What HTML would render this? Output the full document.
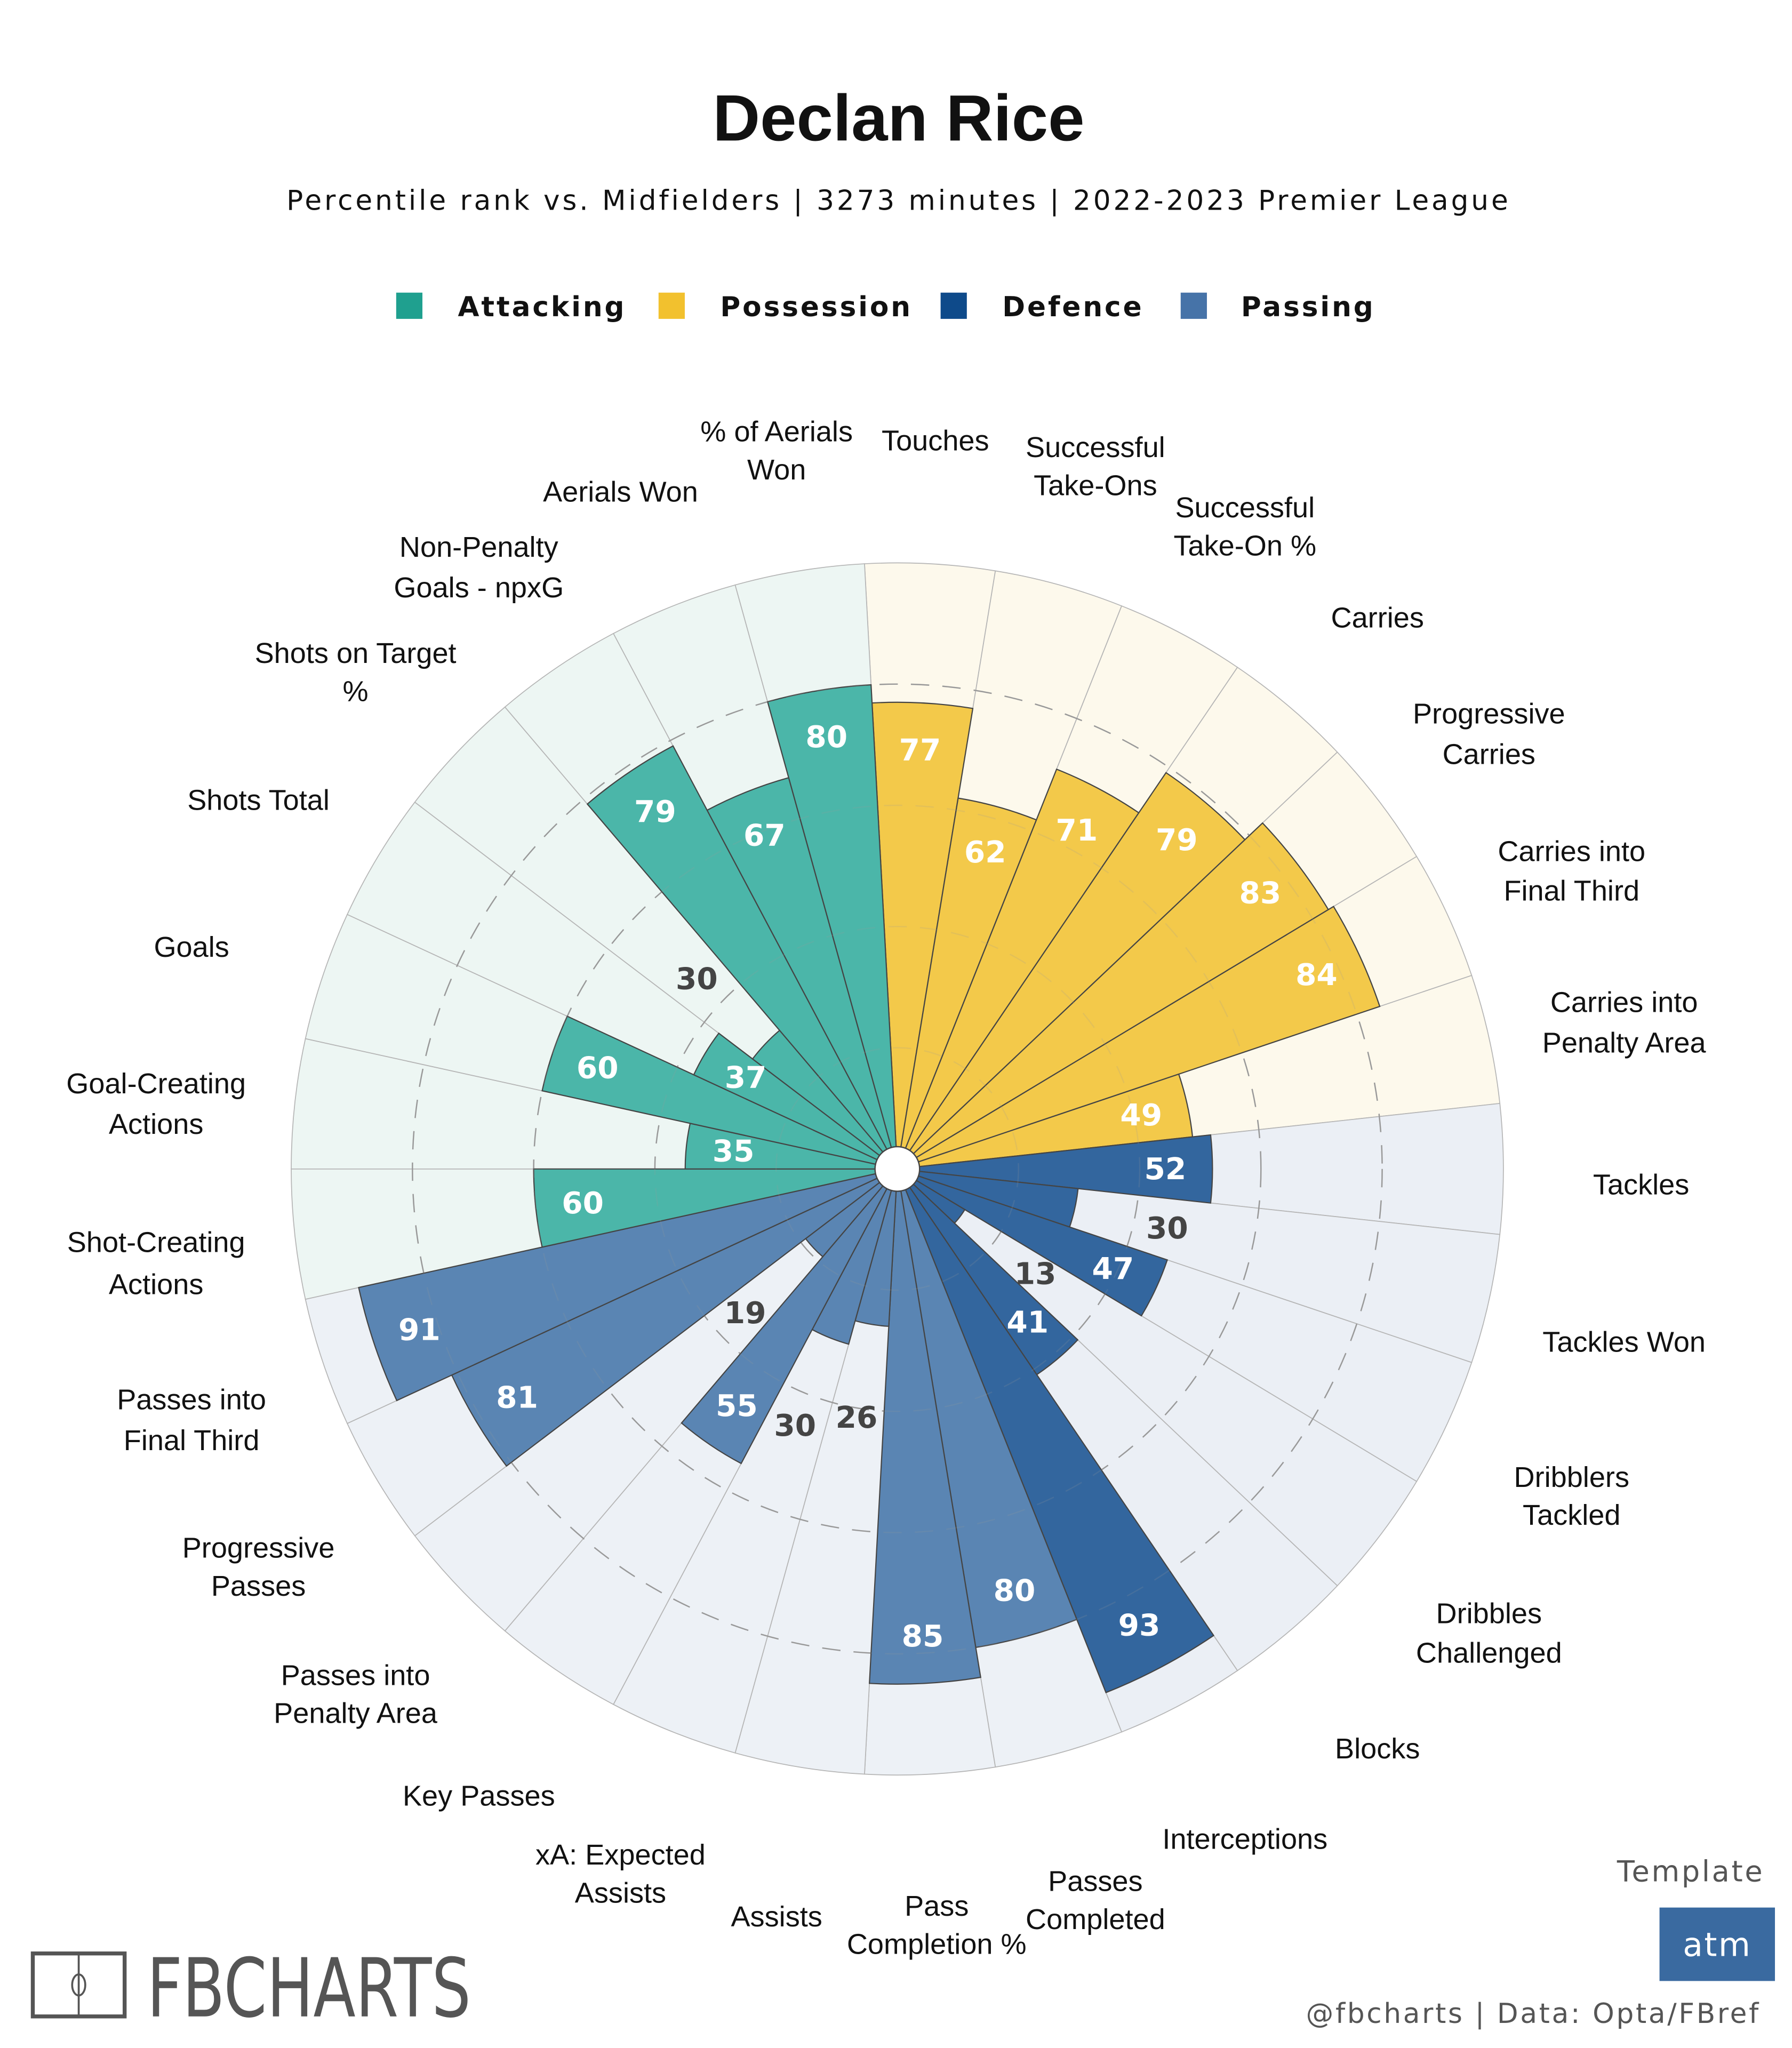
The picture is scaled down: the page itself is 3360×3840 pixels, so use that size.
<!DOCTYPE html>
<html><head><meta charset="utf-8">
<style>
html,body{margin:0;padding:0;background:#fff;}
svg{display:block;}
.lab{font-family:"Liberation Sans",Arial,sans-serif;font-size:22px;fill:#111;text-anchor:middle;dominant-baseline:central;}
</style></head>
<body>
<svg id="chart" width="3360" height="3840" viewBox="0 0 1366 1561" xmlns="http://www.w3.org/2000/svg">
<rect x="0" y="0" width="1366" height="1561" fill="#fff"/>
<text x="685" y="107" text-anchor="middle" font-family="Liberation Sans, Arial, sans-serif" font-weight="bold" font-size="50" fill="#111">Declan Rice</text>
<text x="685" y="160" text-anchor="middle" font-family="DejaVu Sans, sans-serif" font-size="21" letter-spacing="2" fill="#111">Percentile rank vs. Midfielders | 3273 minutes | 2022-2023 Premier League</text>
<g font-family="DejaVu Sans, sans-serif" font-weight="bold" font-size="21" letter-spacing="1.6" fill="#111">
 <g><rect x="302" y="223" width="20" height="20" fill="#1fa08f"/><text x="349" y="241">Attacking</text></g>
 <g><rect x="502" y="223" width="20" height="20" fill="#f2c12e"/><text x="549" y="241">Possession</text></g>
 <g><rect x="717" y="223" width="20" height="20" fill="#0e4a8a"/><text x="764" y="241">Defence</text></g>
 <g><rect x="900" y="223" width="20" height="20" fill="#4673a8"/><text x="946" y="241">Passing</text></g>
</g>
<g id="bgLayer"></g>
<g id="ringLayer"></g>
<g id="barLayer"></g>
<g id="ringTop"></g>
<g id="valLayer"></g>
<circle cx="684" cy="891" r="17" fill="#fff" stroke="#444" stroke-width="1"/>
<g transform="translate(-2,-2)">
 <text class="lab" x="715" y="338">Touches</text>
 <text class="lab" x="837" y="343">Successful<tspan x="837" dy="29">Take-Ons</tspan></text>
 <text class="lab" x="951" y="389">Successful<tspan x="951" dy="29">Take-On %</tspan></text>
 <text class="lab" x="1052" y="473">Carries</text>
 <text class="lab" x="1137" y="546">Progressive<tspan x="1137" dy="31">Carries</tspan></text>
 <text class="lab" x="1200" y="651">Carries into<tspan x="1200" dy="30">Final Third</tspan></text>
 <text class="lab" x="1240" y="766">Carries into<tspan x="1240" dy="31">Penalty Area</tspan></text>
 <text class="lab" x="1253" y="905">Tackles</text>
 <text class="lab" x="1240" y="1025">Tackles Won</text>
 <text class="lab" x="1200" y="1128">Dribblers<tspan x="1200" dy="29">Tackled</tspan></text>
 <text class="lab" x="1137" y="1232">Dribbles<tspan x="1137" dy="30">Challenged</tspan></text>
 <text class="lab" x="1052" y="1335">Blocks</text>
 <text class="lab" x="951" y="1404">Interceptions</text>
 <text class="lab" x="837" y="1436">Passes<tspan x="837" dy="29">Completed</tspan></text>
 <text class="lab" x="716" y="1455">Pass<tspan x="716" dy="29">Completion %</tspan></text>
 <text class="lab" x="594" y="1463">Assists</text>
 <text class="lab" x="475" y="1416">xA: Expected<tspan x="475" dy="29">Assists</tspan></text>
 <text class="lab" x="367" y="1371">Key Passes</text>
 <text class="lab" x="273" y="1279">Passes into<tspan x="273" dy="29">Penalty Area</tspan></text>
 <text class="lab" x="199" y="1182">Progressive<tspan x="199" dy="29">Passes</tspan></text>
 <text class="lab" x="148" y="1069">Passes into<tspan x="148" dy="31">Final Third</tspan></text>
 <text class="lab" x="121" y="949">Shot-Creating<tspan x="121" dy="32">Actions</tspan></text>
 <text class="lab" x="121" y="828">Goal-Creating<tspan x="121" dy="31">Actions</tspan></text>
 <text class="lab" x="148" y="724">Goals</text>
 <text class="lab" x="199" y="612">Shots Total</text>
 <text class="lab" x="273" y="500">Shots on Target<tspan x="273" dy="29">%</tspan></text>
 <text class="lab" x="367" y="419">Non-Penalty<tspan x="367" dy="31">Goals - npxG</tspan></text>
 <text class="lab" x="475" y="377">Aerials Won</text>
 <text class="lab" x="594" y="331">% of Aerials<tspan x="594" dy="29">Won</tspan></text>
</g>
<g transform="translate(-1,-5)">
 <rect x="26" y="1494" width="70" height="48" fill="none" stroke="#555" stroke-width="3"/>
 <line x1="61" y1="1494" x2="61" y2="1542" stroke="#555" stroke-width="1.5"/>
 <ellipse cx="61" cy="1518" rx="5" ry="8" fill="none" stroke="#555" stroke-width="1.5"/>
 <text x="113" y="1542" font-family="DejaVu Sans, sans-serif" font-size="62" fill="#555" textLength="247" lengthAdjust="spacingAndGlyphs">FBCHARTS</text>
</g>
<text x="1345" y="1434" text-anchor="end" font-family="DejaVu Sans, sans-serif" font-size="22" letter-spacing="1.5" fill="#555">Template</text>
<rect x="1265" y="1454" width="88" height="56" fill="#3a6aa0"/>
<text x="1309" y="1491" text-anchor="middle" font-family="DejaVu Sans, sans-serif" font-size="25" letter-spacing="1" fill="#fff">atm</text>
<text x="1342" y="1542" text-anchor="end" font-family="DejaVu Sans, sans-serif" font-size="21" letter-spacing="1.5" fill="#555">@fbcharts | Data: Opta/FBref</text>
</svg>
<script>
const categories = ["Touches","Successful Take-Ons","Successful Take-On %","Carries","Progressive Carries","Carries into Final Third","Carries into Penalty Area","Tackles","Tackles Won","Dribblers Tackled","Dribbles Challenged","Blocks","Interceptions","Passes Completed","Pass Completion %","Assists","xA: Expected Assists","Key Passes","Passes into Penalty Area","Progressive Passes","Passes into Final Third","Shot-Creating Actions","Goal-Creating Actions","Goals","Shots Total","Shots on Target %","Non-Penalty Goals - npxG","Aerials Won","% of Aerials Won"];
const groups = ["pos","pos","pos","pos","pos","pos","pos","def","def","def","def","def","def","pas","pas","pas","pas","pas","pas","pas","pas","att","att","att","att","att","att","att","att"];
const values = [77,62,71,79,83,84,49,52,30,47,13,41,93,80,85,26,30,55,19,81,91,60,35,60,37,30,79,67,80];
const ringTicks = [20,40,60,80];

const NS = "http://www.w3.org/2000/svg";
const CX = 684, CY = 891, R = 462;
const N = categories.length;
const STEP = 360 / N;
const barColor = {att:"#4bb6a9", pos:"#f3c94a", def:"#33669e", pas:"#5a85b3"};
const bgColor = {att:"#edf6f3", pos:"#fdf9ec", def:"#ebeff5", pas:"#edf1f6"};
function rScale(v){ return v / 100 * R; }
function pt(r, deg){ const a = deg*Math.PI/180; return [CX + r*Math.cos(a), CY - r*Math.sin(a)]; }
function wedge(r, a0, a1){
  const p0 = pt(r, a0), p1 = pt(r, a1);
  return `M${CX},${CY} L${p0[0]},${p0[1]} A${r},${r} 0 0 1 ${p1[0]},${p1[1]} Z`;
}
const A0 = 90 + STEP / 4;
const bgL = document.getElementById('bgLayer');
const barL = document.getElementById('barLayer');
const valL = document.getElementById('valLayer');
for (let i = 0; i < N; i++) {
  const a0 = A0 - i*STEP, a1 = a0 - STEP, mid = a0 - STEP/2;
  const bg = document.createElementNS(NS,'path');
  bg.setAttribute('d', wedge(R, a0, a1));
  bg.setAttribute('fill', bgColor[groups[i]]);
  bg.setAttribute('stroke', '#b5b5b5');
  bg.setAttribute('stroke-width', '0.7');
  
  
  bgL.appendChild(bg);

  const rb = rScale(values[i]);
  const bar = document.createElementNS(NS,'path');
  bar.setAttribute('d', wedge(rb, a0, a1));
  bar.setAttribute('fill', barColor[groups[i]]);
  bar.setAttribute('stroke', '#444');
  bar.setAttribute('stroke-width', '0.9');
  
  
  barL.appendChild(bar);

  const small = values[i] <= 30;
  const p = pt(small ? rb + 72 : rb - 36, mid);
  const t = document.createElementNS(NS,'text');
  t.setAttribute('x', p[0]); t.setAttribute('y', p[1]);
  t.setAttribute('text-anchor','middle');
  t.setAttribute('dominant-baseline','central');
  t.setAttribute('font-family','DejaVu Sans, sans-serif');
  t.setAttribute('font-weight','bold');
  t.setAttribute('font-size','23');
  t.setAttribute('fill', small ? '#444' : '#fff');
  t.textContent = values[i];
  
  
  valL.appendChild(t);
}
const ringL = document.getElementById('ringLayer');
const ringT = document.getElementById('ringTop');
ringTicks.forEach(v => {
  const c = document.createElementNS(NS,'circle');
  c.setAttribute('cx', CX); c.setAttribute('cy', CY); c.setAttribute('r', rScale(v));
  c.setAttribute('fill','none'); c.setAttribute('stroke','#999');
  c.setAttribute('stroke-width','1'); c.setAttribute('stroke-dasharray','14 10');
  
  
  ringL.appendChild(c);
  const c2 = c.cloneNode();
  c2.setAttribute('stroke-opacity','0.18');
  
  ringT.appendChild(c2);
});
</script>
</body></html>
